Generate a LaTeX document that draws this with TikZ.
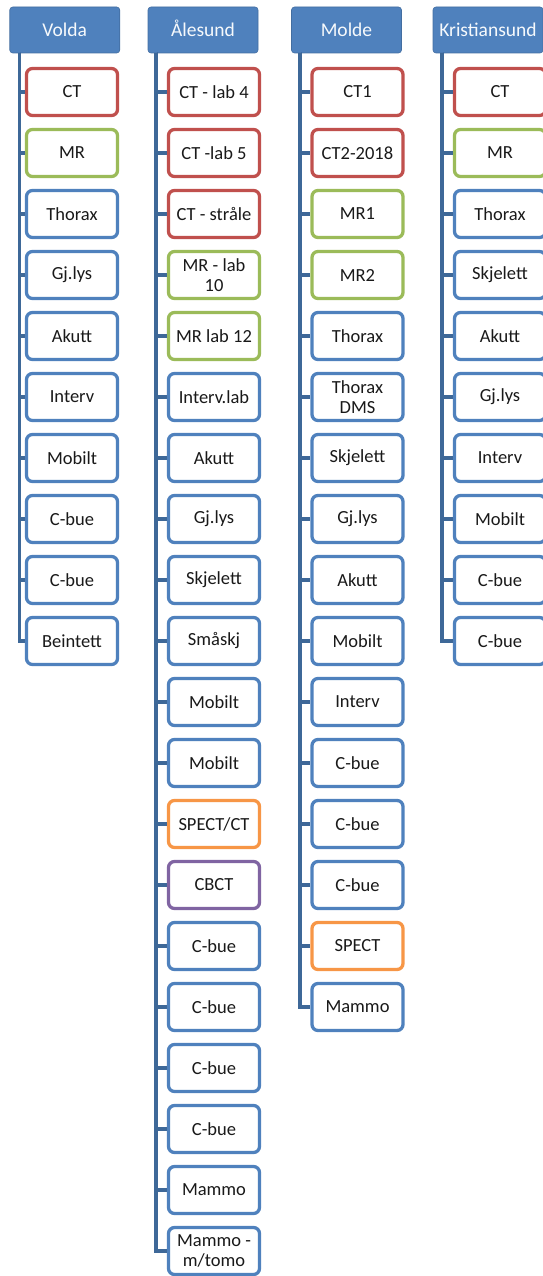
\documentclass[tikz,border=0pt]{standalone}
\usepackage{fontspec}
\setmainfont{Carlito}
\definecolor{hdr}{HTML}{4F81BD}
\definecolor{cred}{HTML}{C0504D}
\definecolor{cgreen}{HTML}{9BBB59}
\definecolor{cblue}{HTML}{4F81BD}
\definecolor{corange}{HTML}{F79646}
\definecolor{cpurple}{HTML}{8064A2}
\definecolor{conn}{HTML}{3E6898}
\newcommand\itm[5]{\node[item,draw=#4] (#1) at ({#2},{92+61*(#3-1)}) {#5};}
\begin{document}
\begin{tikzpicture}[x=1pt,y=-1pt,
  hdrbox/.style={fill=hdr, draw=hdr!85!black, line width=0.6pt, rounded corners=3pt, minimum width=110pt, minimum height=46pt, inner sep=0pt, text height=13pt, text depth=0.4pt, text=white!95!hdr, font=\fontsize{19.5}{22}\selectfont},
  item/.style={fill=white, line width=3.3pt, rounded corners=6pt, minimum width=91pt, minimum height=47pt, inner sep=1pt, align=center, text=black!90, font=\fontsize{18.5}{20}\selectfont},
  conn/.style={draw=conn, line width=3.6pt}]
\useasboundingbox (0,0) rectangle (542,1276);
% headers
\node[hdrbox] (hv) at (64.75,30) {Volda};
\node[hdrbox] (ha) at (203,30) {Ålesund};
\node[hdrbox] (hm) at (346.5,30) {Molde};
\node[hdrbox] (hk) at (488,30) {Kristiansund};
% trunk tops
\coordinate (tv) at (19.5,53);
\coordinate (ta) at (156,53);
\coordinate (tm) at (300,53);
\coordinate (tk) at (442,53);
% Volda
\itm{v1}{72}{1}{cred}{CT}
\itm{v2}{72}{2}{cgreen}{MR}
\itm{v3}{72}{3}{cblue}{Thorax}
\itm{v4}{72}{4}{cblue}{Gj.lys}
\itm{v5}{72}{5}{cblue}{Akutt}
\itm{v6}{72}{6}{cblue}{Interv}
\itm{v7}{72}{7}{cblue}{Mobilt}
\itm{v8}{72}{8}{cblue}{C-bue}
\itm{v9}{72}{9}{cblue}{C-bue}
\itm{v10}{72}{10}{cblue}{Beintett}
% Aalesund
\itm{a1}{214}{1}{cred}{CT - lab 4}
\itm{a2}{214}{2}{cred}{CT -lab 5}
\itm{a3}{214}{3}{cred}{CT - stråle}
\itm{a4}{214}{4}{cgreen}{MR - lab\\10}
\itm{a5}{214}{5}{cgreen}{MR lab 12}
\itm{a6}{214}{6}{cblue}{Interv.lab}
\itm{a7}{214}{7}{cblue}{Akutt}
\itm{a8}{214}{8}{cblue}{Gj.lys}
\itm{a9}{214}{9}{cblue}{Skjelett}
\itm{a10}{214}{10}{cblue}{Småskj}
\itm{a11}{214}{11}{cblue}{Mobilt}
\itm{a12}{214}{12}{cblue}{Mobilt}
\itm{a13}{214}{13}{corange}{SPECT/CT}
\itm{a14}{214}{14}{cpurple}{CBCT}
\itm{a15}{214}{15}{cblue}{C-bue}
\itm{a16}{214}{16}{cblue}{C-bue}
\itm{a17}{214}{17}{cblue}{C-bue}
\itm{a18}{214}{18}{cblue}{C-bue}
\itm{a19}{214}{19}{cblue}{Mammo}
\itm{a20}{214}{20}{cblue}{Mammo -\\m/tomo}
% Molde
\itm{m1}{357.5}{1}{cred}{CT1}
\itm{m2}{357.5}{2}{cred}{CT2-2018}
\itm{m3}{357.5}{3}{cgreen}{MR1}
\itm{m4}{357.5}{4}{cgreen}{MR2}
\itm{m5}{357.5}{5}{cblue}{Thorax}
\itm{m6}{357.5}{6}{cblue}{Thorax\\DMS}
\itm{m7}{357.5}{7}{cblue}{Skjelett}
\itm{m8}{357.5}{8}{cblue}{Gj.lys}
\itm{m9}{357.5}{9}{cblue}{Akutt}
\itm{m10}{357.5}{10}{cblue}{Mobilt}
\itm{m11}{357.5}{11}{cblue}{Interv}
\itm{m12}{357.5}{12}{cblue}{C-bue}
\itm{m13}{357.5}{13}{cblue}{C-bue}
\itm{m14}{357.5}{14}{cblue}{C-bue}
\itm{m15}{357.5}{15}{corange}{SPECT}
\itm{m16}{357.5}{16}{cblue}{Mammo}
% Kristiansund
\itm{k1}{500}{1}{cred}{CT}
\itm{k2}{500}{2}{cgreen}{MR}
\itm{k3}{500}{3}{cblue}{Thorax}
\itm{k4}{500}{4}{cblue}{Skjelett}
\itm{k5}{500}{5}{cblue}{Akutt}
\itm{k6}{500}{6}{cblue}{Gj.lys}
\itm{k7}{500}{7}{cblue}{Interv}
\itm{k8}{500}{8}{cblue}{Mobilt}
\itm{k9}{500}{9}{cblue}{C-bue}
\itm{k10}{500}{10}{cblue}{C-bue}
% connectors
\foreach \i in {1,...,10} \draw[conn] (tv) |- (v\i.west);
\foreach \i in {1,...,20} \draw[conn] (ta) |- (a\i.west);
\foreach \i in {1,...,16} \draw[conn] (tm) |- (m\i.west);
\foreach \i in {1,...,10} \draw[conn] (tk) |- (k\i.west);
\end{tikzpicture}
\end{document}
